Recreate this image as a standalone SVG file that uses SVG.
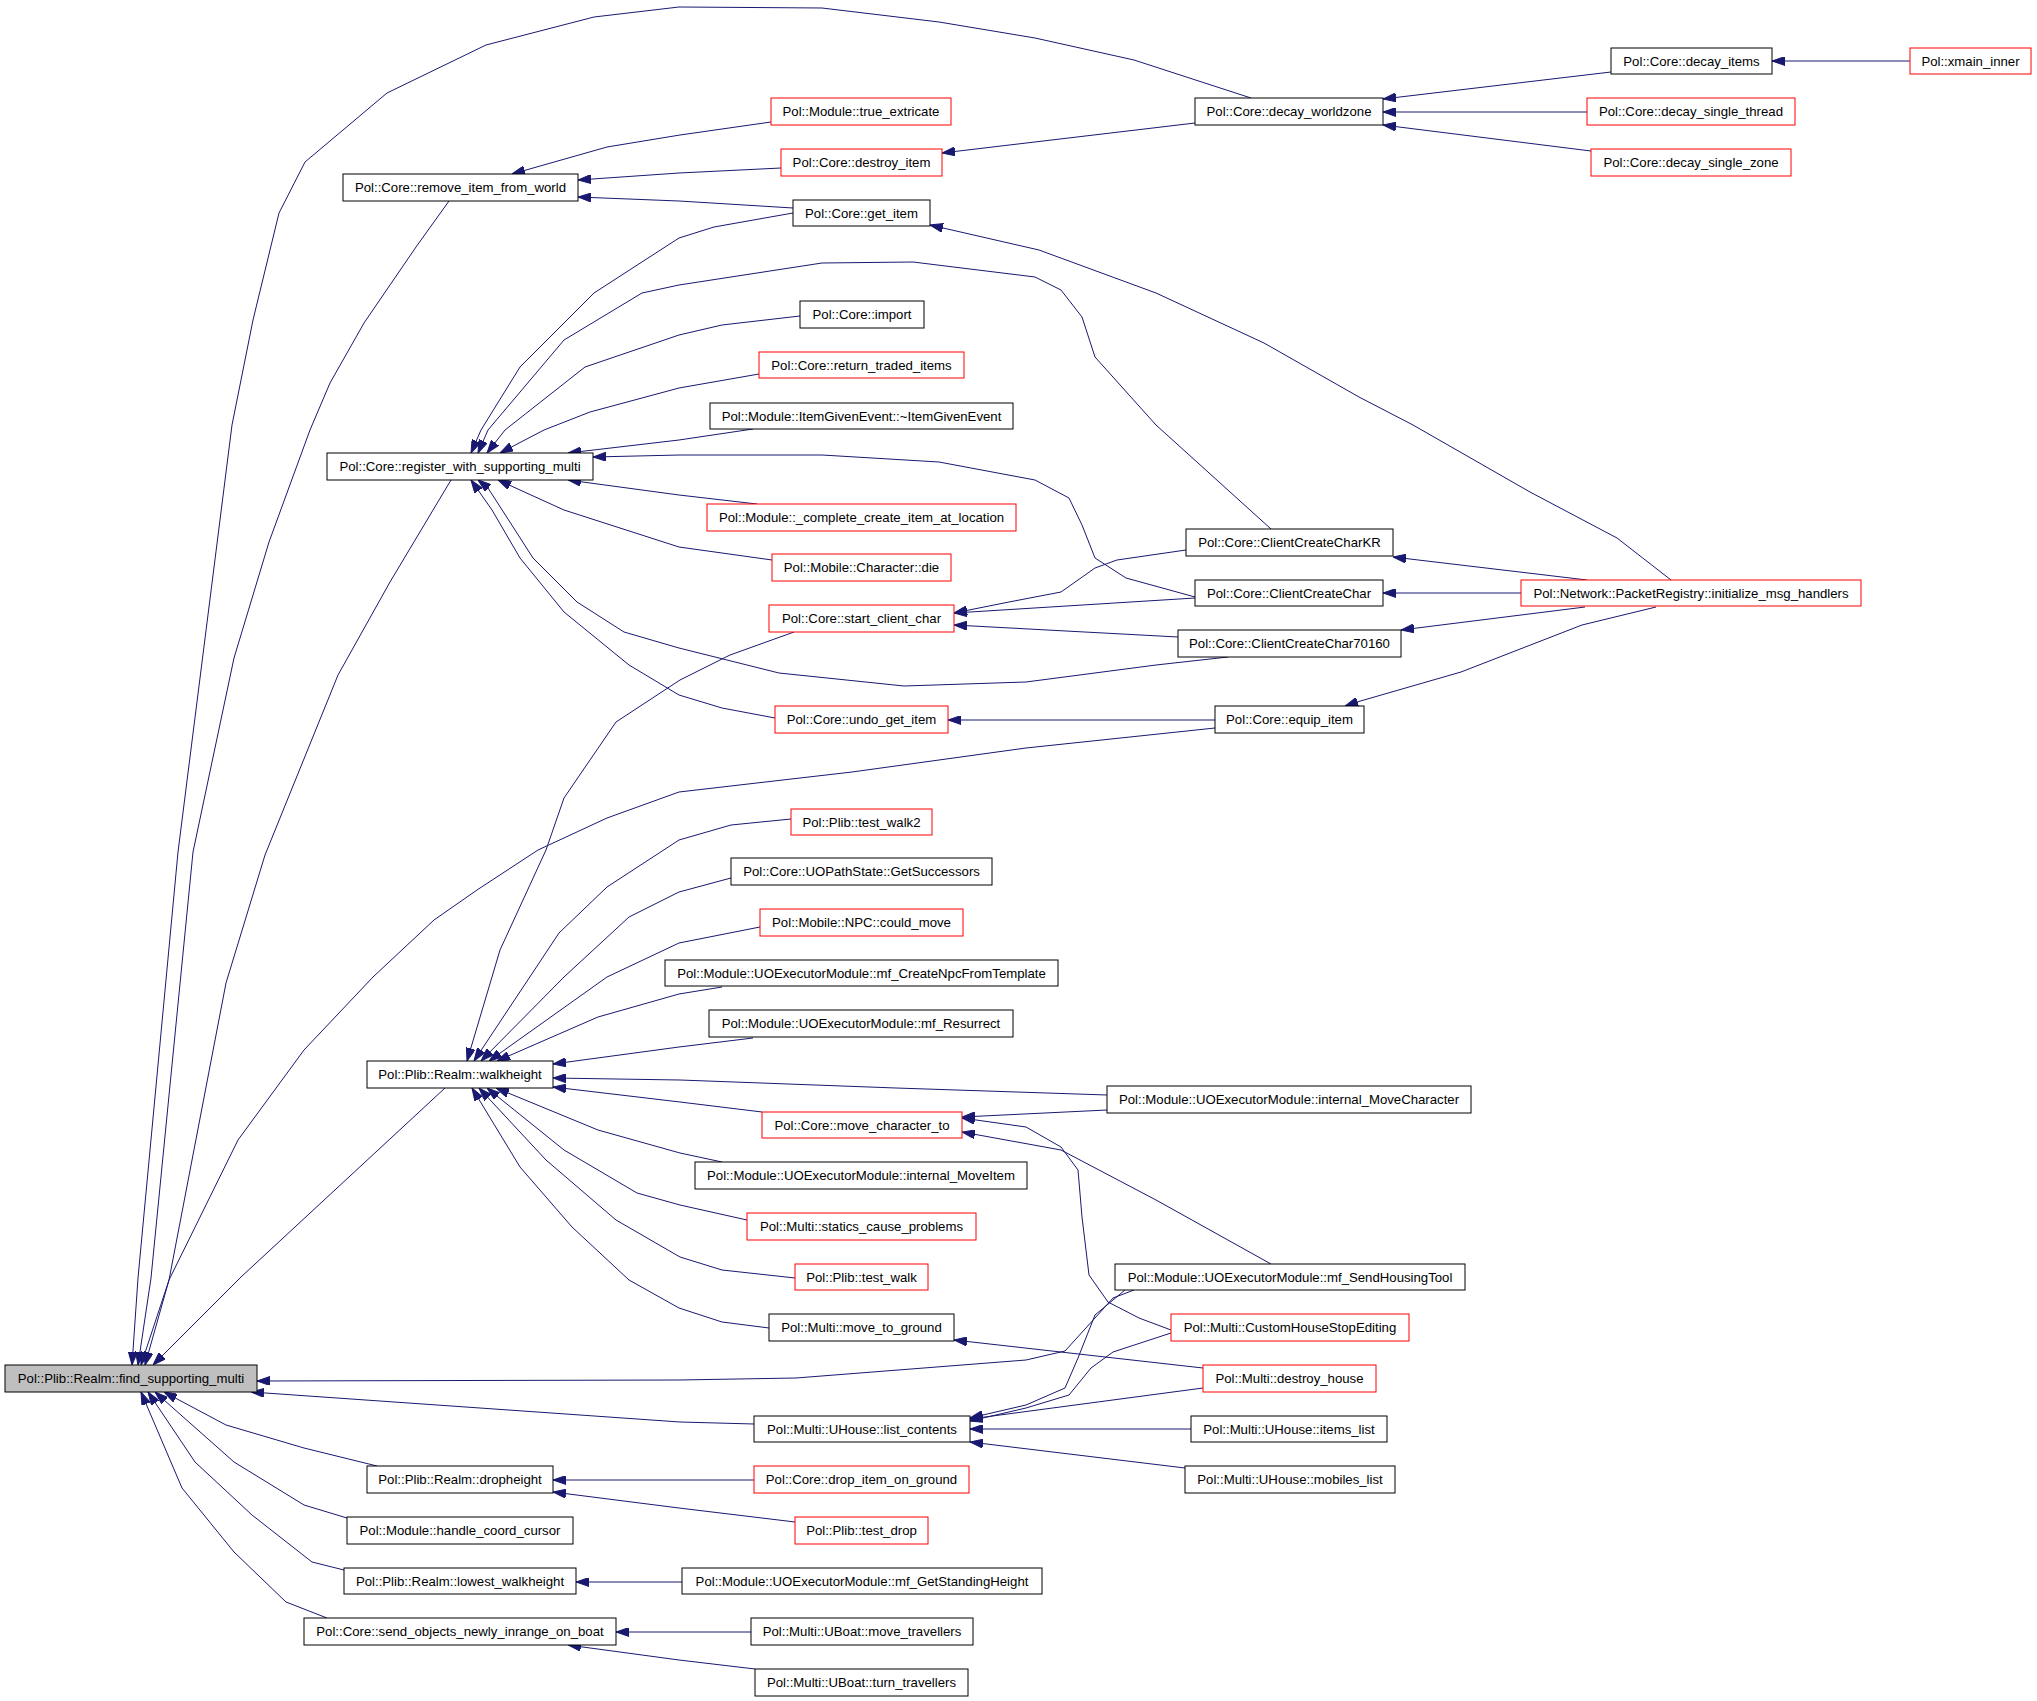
<svg xmlns="http://www.w3.org/2000/svg" width="2037" height="1701" viewBox="0 0 2037 1701">
<style>
.n rect{fill:#fff;stroke:#000;stroke-width:1}
.n.r rect{stroke:#f00}
.n.g rect{fill:#bfbfbf}
.n text{font-family:"Liberation Sans",Arial,sans-serif;font-size:13.2px;text-anchor:middle;fill:#000}
.e path{fill:none;stroke:#191970;stroke-width:1;stroke-linejoin:round;marker-end:url(#ah)}
</style>
<defs>
<marker id="ah" viewBox="0 0 13 9" refX="13" refY="4.5" markerWidth="13" markerHeight="9" markerUnits="userSpaceOnUse" orient="auto">
<path d="M0,0 L13,4.5 L0,9 z" fill="#191970" stroke="#191970" stroke-width="1"/>
</marker>
</defs>
<rect width="2037" height="1701" fill="#fff"/>
<g id="edges" class="e">
<path d="M1251,98 L1134,60 L1035,38 L939,22 L822,8 L679,7 L594,17 L486,45 L387,93 L305,162 L279,213 L253,320 L232,425 L178,852 L138,1278 L132,1365"/>
<path d="M449,201 L416,247 L364,323 L330,383 L310,430 L269,542 L234,658 L193,852 L151,1278 L138,1365"/>
<path d="M451,480 L390,582 L338,675 L265,855 L226,983 L169,1280 L145,1365"/>
<path d="M1215,728 L1026,748 L852,772 L679,792 L607,818 L538,850 L477,890 L434,920 L373,977 L304,1050 L238,1140 L169,1280 L141,1365"/>
<path d="M445,1088 L241,1277 L153,1365"/>
<path d="M1134,1290 L1113,1298 L1095,1318 L1065,1351 L1026,1360 L796,1378 L679,1380 L257,1381"/>
<path d="M754,1424 L680,1422 L251,1392"/>
<path d="M377,1466 L304,1448 L226,1425 L164,1392"/>
<path d="M347,1518 L304,1505 L234,1462 L155,1392"/>
<path d="M344,1570 L312,1562 L252,1515 L195,1462 L148,1392"/>
<path d="M327,1618 L286,1602 L234,1552 L182,1488 L141,1392"/>
<path d="M771,122 L680,135 L607,147 L512,174"/>
<path d="M781,168 L679,173 L578,180"/>
<path d="M793,208 L679,201 L578,197"/>
<path d="M1195,123 L942,153"/>
<path d="M1611,72 L1383,99"/>
<path d="M1587,112 L1383,112"/>
<path d="M1591,151 L1383,125"/>
<path d="M1910,61 L1772,61"/>
<path d="M1671,580 L1617,538 L1530,492 L1413,425 L1359,397 L1264,343 L1156,293 L1039,250 L930,225"/>
<path d="M793,213 L714,227 L679,238 L594,293 L520,367 L481,430 L471,453"/>
<path d="M1271,529 L1156,425 L1095,357 L1082,317 L1061,290 L1035,277 L913,262 L822,263 L679,285 L642,293 L564,340 L488,430 L478,453"/>
<path d="M800,316 L722,325 L679,335 L585,367 L505,430 L487,453"/>
<path d="M759,374 L679,388 L590,412 L544,430 L500,453"/>
<path d="M753,429 L679,440 L568,453"/>
<path d="M1195,597 L1126,578 L1095,558 L1082,525 L1069,498 L1035,480 L939,462 L822,455 L680,455 L593,457"/>
<path d="M757,504 L679,495 L568,480"/>
<path d="M772,560 L679,547 L564,510 L498,480"/>
<path d="M1228,657 L1156,665 L1026,682 L904,686 L779,673 L679,648 L624,632 L577,602 L533,558 L488,488 L478,480"/>
<path d="M775,718 L722,708 L679,695 L629,665 L564,612 L520,558 L492,510 L471,480"/>
<path d="M1186,550 L1117,560 L1095,568 L1061,592 L1009,602 L954,613"/>
<path d="M1195,598 L954,613"/>
<path d="M1178,637 L954,625"/>
<path d="M794,632 L730,655 L680,680 L616,722 L564,798 L546,850 L500,950 L467,1061"/>
<path d="M1587,580 L1393,557"/>
<path d="M1521,593 L1383,593"/>
<path d="M1585,607 L1401,630"/>
<path d="M1656,607 L1582,625 L1461,672 L1357,702 L1345,706"/>
<path d="M1215,720 L948,720"/>
<path d="M791,819 L731,825 L679,840 L607,887 L559,933 L474,1061"/>
<path d="M731,878 L679,892 L629,917 L564,977 L481,1061"/>
<path d="M760,927 L679,943 L607,977 L489,1061"/>
<path d="M722,987 L679,994 L598,1017 L497,1061"/>
<path d="M753,1038 L679,1047 L553,1064"/>
<path d="M1107,1095 L896,1088 L680,1080 L553,1078"/>
<path d="M762,1112 L680,1102 L553,1087"/>
<path d="M722,1162 L680,1153 L598,1130 L496,1088"/>
<path d="M747,1220 L680,1205 L637,1193 L564,1150 L487,1088"/>
<path d="M795,1278 L722,1270 L680,1257 L616,1220 L546,1160 L479,1088"/>
<path d="M769,1328 L722,1322 L679,1308 L629,1280 L572,1227 L520,1167 L472,1088"/>
<path d="M1107,1110 L962,1117"/>
<path d="M1271,1264 L1156,1200 L1061,1150 L962,1132"/>
<path d="M1171,1330 L1139,1318 L1108,1302 L1089,1275 L1082,1217 L1078,1170 L1061,1147 L1026,1127 L962,1118"/>
<path d="M1203,1368 L954,1340"/>
<path d="M1125,1290 L1095,1315 L1078,1358 L1065,1388 L1026,1405 L970,1418"/>
<path d="M1171,1333 L1113,1352 L1091,1368 L1069,1395 L1026,1408 L970,1421"/>
<path d="M1203,1388 L970,1419"/>
<path d="M1191,1429 L970,1429"/>
<path d="M1185,1468 L970,1442"/>
<path d="M754,1480 L553,1480"/>
<path d="M795,1522 L679,1508 L553,1492"/>
<path d="M682,1582 L576,1582"/>
<path d="M751,1632 L616,1632"/>
<path d="M755,1669 L679,1660 L568,1645"/>
</g>
<g id="n_find_supporting_multi" class="n g"><rect x="5" y="1365" width="252" height="27"/><text x="131" y="1383">Pol::Plib::Realm::find_supporting_multi</text></g>
<g id="n_remove_item_from_world" class="n"><rect x="343" y="174" width="235" height="27"/><text x="460.5" y="192">Pol::Core::remove_item_from_world</text></g>
<g id="n_true_extricate" class="n r"><rect x="771" y="98" width="180" height="27"/><text x="861" y="116">Pol::Module::true_extricate</text></g>
<g id="n_destroy_item" class="n r"><rect x="781" y="149" width="161" height="27"/><text x="861.5" y="167">Pol::Core::destroy_item</text></g>
<g id="n_get_item" class="n"><rect x="793" y="200" width="137" height="26"/><text x="861.5" y="218">Pol::Core::get_item</text></g>
<g id="n_decay_worldzone" class="n"><rect x="1195" y="98" width="188" height="27"/><text x="1289" y="116">Pol::Core::decay_worldzone</text></g>
<g id="n_decay_items" class="n"><rect x="1611" y="48" width="161" height="26"/><text x="1691.5" y="66">Pol::Core::decay_items</text></g>
<g id="n_xmain_inner" class="n r"><rect x="1910" y="48" width="121" height="26"/><text x="1970.5" y="66">Pol::xmain_inner</text></g>
<g id="n_decay_single_thread" class="n r"><rect x="1587" y="98" width="208" height="27"/><text x="1691" y="116">Pol::Core::decay_single_thread</text></g>
<g id="n_decay_single_zone" class="n r"><rect x="1591" y="149" width="200" height="27"/><text x="1691" y="167">Pol::Core::decay_single_zone</text></g>
<g id="n_import" class="n"><rect x="800" y="301" width="124" height="27"/><text x="862" y="319">Pol::Core::import</text></g>
<g id="n_return_traded_items" class="n r"><rect x="759" y="352" width="205" height="26"/><text x="861.5" y="370">Pol::Core::return_traded_items</text></g>
<g id="n_ItemGivenEvent" class="n"><rect x="710" y="403" width="303" height="26"/><text x="861.5" y="421">Pol::Module::ItemGivenEvent::~ItemGivenEvent</text></g>
<g id="n_register_with_supporting_multi" class="n"><rect x="327" y="453" width="266" height="27"/><text x="460" y="471">Pol::Core::register_with_supporting_multi</text></g>
<g id="n_complete_create_item_at_location" class="n r"><rect x="707" y="504" width="309" height="27"/><text x="861.5" y="522">Pol::Module::_complete_create_item_at_location</text></g>
<g id="n_Character_die" class="n r"><rect x="772" y="554" width="179" height="27"/><text x="861.5" y="572">Pol::Mobile::Character::die</text></g>
<g id="n_start_client_char" class="n r"><rect x="769" y="605" width="185" height="27"/><text x="861.5" y="623">Pol::Core::start_client_char</text></g>
<g id="n_ClientCreateCharKR" class="n"><rect x="1186" y="529" width="207" height="27"/><text x="1289.5" y="547">Pol::Core::ClientCreateCharKR</text></g>
<g id="n_ClientCreateChar" class="n"><rect x="1195" y="580" width="188" height="26"/><text x="1289" y="598">Pol::Core::ClientCreateChar</text></g>
<g id="n_ClientCreateChar70160" class="n"><rect x="1178" y="630" width="223" height="27"/><text x="1289.5" y="648">Pol::Core::ClientCreateChar70160</text></g>
<g id="n_undo_get_item" class="n r"><rect x="775" y="706" width="173" height="27"/><text x="861.5" y="724">Pol::Core::undo_get_item</text></g>
<g id="n_equip_item" class="n"><rect x="1215" y="706" width="149" height="27"/><text x="1289.5" y="724">Pol::Core::equip_item</text></g>
<g id="n_initialize_msg_handlers" class="n r"><rect x="1521" y="580" width="340" height="26"/><text x="1691" y="598">Pol::Network::PacketRegistry::initialize_msg_handlers</text></g>
<g id="n_test_walk2" class="n r"><rect x="791" y="809" width="141" height="26"/><text x="861.5" y="827">Pol::Plib::test_walk2</text></g>
<g id="n_walkheight" class="n"><rect x="367" y="1061" width="186" height="27"/><text x="460" y="1079">Pol::Plib::Realm::walkheight</text></g>
<g id="n_GetSuccessors" class="n"><rect x="731" y="858" width="261" height="27"/><text x="861.5" y="876">Pol::Core::UOPathState::GetSuccessors</text></g>
<g id="n_could_move" class="n r"><rect x="760" y="909" width="203" height="27"/><text x="861.5" y="927">Pol::Mobile::NPC::could_move</text></g>
<g id="n_mf_CreateNpcFromTemplate" class="n"><rect x="665" y="960" width="393" height="26"/><text x="861.5" y="978">Pol::Module::UOExecutorModule::mf_CreateNpcFromTemplate</text></g>
<g id="n_mf_Resurrect" class="n"><rect x="709" y="1010" width="304" height="27"/><text x="861" y="1028">Pol::Module::UOExecutorModule::mf_Resurrect</text></g>
<g id="n_internal_MoveCharacter" class="n"><rect x="1107" y="1086" width="364" height="27"/><text x="1289" y="1104">Pol::Module::UOExecutorModule::internal_MoveCharacter</text></g>
<g id="n_move_character_to" class="n r"><rect x="762" y="1112" width="200" height="26"/><text x="862" y="1130">Pol::Core::move_character_to</text></g>
<g id="n_internal_MoveItem" class="n"><rect x="695" y="1162" width="332" height="27"/><text x="861" y="1180">Pol::Module::UOExecutorModule::internal_MoveItem</text></g>
<g id="n_statics_cause_problems" class="n r"><rect x="747" y="1213" width="229" height="27"/><text x="861.5" y="1231">Pol::Multi::statics_cause_problems</text></g>
<g id="n_test_walk" class="n r"><rect x="795" y="1264" width="133" height="26"/><text x="861.5" y="1282">Pol::Plib::test_walk</text></g>
<g id="n_mf_SendHousingTool" class="n"><rect x="1115" y="1264" width="350" height="26"/><text x="1290" y="1282">Pol::Module::UOExecutorModule::mf_SendHousingTool</text></g>
<g id="n_move_to_ground" class="n"><rect x="769" y="1314" width="185" height="27"/><text x="861.5" y="1332">Pol::Multi::move_to_ground</text></g>
<g id="n_CustomHouseStopEditing" class="n r"><rect x="1171" y="1314" width="238" height="27"/><text x="1290" y="1332">Pol::Multi::CustomHouseStopEditing</text></g>
<g id="n_destroy_house" class="n r"><rect x="1203" y="1365" width="173" height="27"/><text x="1289.5" y="1383">Pol::Multi::destroy_house</text></g>
<g id="n_list_contents" class="n"><rect x="754" y="1416" width="216" height="26"/><text x="862" y="1434">Pol::Multi::UHouse::list_contents</text></g>
<g id="n_items_list" class="n"><rect x="1191" y="1416" width="196" height="26"/><text x="1289" y="1434">Pol::Multi::UHouse::items_list</text></g>
<g id="n_drop_item_on_ground" class="n r"><rect x="754" y="1466" width="215" height="27"/><text x="861.5" y="1484">Pol::Core::drop_item_on_ground</text></g>
<g id="n_mobiles_list" class="n"><rect x="1185" y="1466" width="210" height="27"/><text x="1290" y="1484">Pol::Multi::UHouse::mobiles_list</text></g>
<g id="n_test_drop" class="n r"><rect x="795" y="1517" width="133" height="27"/><text x="861.5" y="1535">Pol::Plib::test_drop</text></g>
<g id="n_mf_GetStandingHeight" class="n"><rect x="682" y="1568" width="360" height="26"/><text x="862" y="1586">Pol::Module::UOExecutorModule::mf_GetStandingHeight</text></g>
<g id="n_move_travellers" class="n"><rect x="751" y="1618" width="222" height="27"/><text x="862" y="1636">Pol::Multi::UBoat::move_travellers</text></g>
<g id="n_turn_travellers" class="n"><rect x="755" y="1669" width="213" height="27"/><text x="861.5" y="1687">Pol::Multi::UBoat::turn_travellers</text></g>
<g id="n_dropheight" class="n"><rect x="367" y="1466" width="186" height="27"/><text x="460" y="1484">Pol::Plib::Realm::dropheight</text></g>
<g id="n_handle_coord_cursor" class="n"><rect x="347" y="1517" width="226" height="27"/><text x="460" y="1535">Pol::Module::handle_coord_cursor</text></g>
<g id="n_lowest_walkheight" class="n"><rect x="344" y="1568" width="232" height="26"/><text x="460" y="1586">Pol::Plib::Realm::lowest_walkheight</text></g>
<g id="n_send_objects_newly_inrange_on_boat" class="n"><rect x="304" y="1618" width="312" height="27"/><text x="460" y="1636">Pol::Core::send_objects_newly_inrange_on_boat</text></g>
</svg>
